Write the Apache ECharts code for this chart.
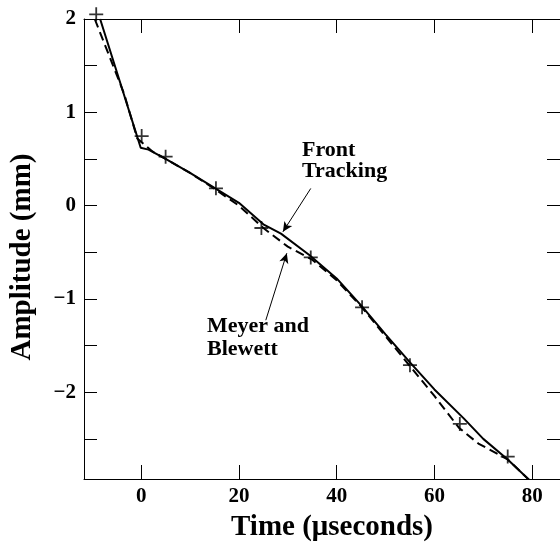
<!DOCTYPE html>
<html>
<head>
<meta charset="utf-8">
<script src="https://cdn.jsdelivr.net/npm/echarts@6/dist/echarts.min.js"></script>
<style>html,body{margin:0;padding:0;background:#fff}#c{width:560px;height:553px}</style>
</head>
<body>
<div id="c"></div>
<script>
// ---- data ----
const frontX = [-8.4, -0.1, 1.5, 5, 10, 15, 20, 25, 28.6, 34.4, 40, 45, 50, 55, 60, 66, 70, 75, 79.4];
const frontY = [2.0, 0.62, 0.6, 0.5, 0.35, 0.19, 0.03, -0.2, -0.3, -0.53, -0.78, -1.07, -1.38, -1.68, -1.97, -2.28, -2.5, -2.72, -2.94];
const meyerX = [-9.5, -3.5, -0.8, 2.3, 5, 10, 15, 20, 25, 30, 35, 40, 45, 50, 55, 60, 65, 69, 75, 79.4];
const meyerY = [2.0, 1.2, 0.72, 0.58, 0.5, 0.35, 0.18, 0.0, -0.24, -0.44, -0.58, -0.8, -1.08, -1.4, -1.72, -2.04, -2.38, -2.55, -2.72, -2.94];
const expX = [-9.2, 0.1, 5, 15.3, 24.6, 34.7, 45.2, 55, 65.2, 75];
const expY = [2.05, 0.745, 0.525, 0.185, -0.24, -0.555, -1.09, -1.71, -2.34, -2.69];
const xTickValues = [0, 20, 40, 60, 80];
const yLabelValues = [-2, -1, 0, 1, 2];
const yTickValues = [-2.5, -2, -1.5, -1, -0.5, 0, 0.5, 1, 1.5, 2];
const frontArrow = [[34.7, 0.184], [29.0, -0.281]];
const meyerArrow = [[25.5, -1.228], [29.8, -0.51]];

const zip = (xs, ys) => xs.map((x, i) => [x, ys[i]]);
const font = '"Liberation Serif", "Times New Roman", serif';
const minus = v => (v < 0 ? '\u2212' + Math.abs(v) : String(v));

const chart = echarts.init(document.getElementById('c'), null, {renderer: 'canvas'});
const axisLineStyle = {color: '#000', width: 1};
chart.setOption({
  backgroundColor: '#fff',
  animation: false,
  grid: {left: 83, top: 19, width: 480, height: 460},
  xAxis: [{
    type: 'value', min: -11.7, max: 85.7, position: 'bottom',
    splitLine: {show: false},
    axisLine: {onZero: false, lineStyle: axisLineStyle},
    axisTick: {inside: true, length: 14, customValues: xTickValues, lineStyle: {color: '#000', width: 1}},
    axisLabel: {customValues: xTickValues, formatter: minus, margin: 7, color: '#000', fontFamily: font, fontWeight: 'bold', fontSize: 21},
    name: 'Time (\u03bcseconds)', nameLocation: 'middle', nameGap: 34,
    nameTextStyle: {color: '#000', fontFamily: font, fontWeight: 'bold', fontSize: 29, padding: [0, 0, 0, 20]}
  }, {
    type: 'value', min: -11.7, max: 85.7, position: 'top',
    splitLine: {show: false},
    axisLine: {onZero: false, lineStyle: axisLineStyle},
    axisTick: {inside: true, length: 14, customValues: xTickValues, lineStyle: {color: '#000', width: 1}},
    axisLabel: {show: false}
  }],
  yAxis: [{
    type: 'value', min: -2.93, max: 2, position: 'left',
    splitLine: {show: false},
    axisLine: {onZero: false, lineStyle: axisLineStyle},
    axisTick: {inside: true, length: 13, customValues: yTickValues, lineStyle: {color: '#000', width: 1}},
    axisLabel: {customValues: yLabelValues, formatter: minus, margin: 8, color: '#000', fontFamily: font, fontWeight: 'bold', fontSize: 21},
    name: 'Amplitude (mm)', nameLocation: 'middle', nameGap: 47,
    nameTextStyle: {color: '#000', fontFamily: font, fontWeight: 'bold', fontSize: 29, padding: [0, 16, 0, 0]}
  }, {
    type: 'value', min: -2.93, max: 2, position: 'right',
    splitLine: {show: false},
    axisLine: {onZero: false, lineStyle: axisLineStyle},
    axisTick: {inside: true, length: 13, customValues: yTickValues, lineStyle: {color: '#000', width: 1}},
    axisLabel: {show: false}
  }],
  series: [{
    name: 'Front Tracking', type: 'line', data: zip(frontX, frontY),
    showSymbol: false, lineStyle: {color: '#000', width: 2}, itemStyle: {color: '#000'}, z: 3,
    markLine: {
      silent: true, symbol: ['none', 'arrow'], symbolSize: [7, 10],
      lineStyle: {color: '#000', width: 1, type: 'solid'}, label: {show: false},
      data: [[{coord: frontArrow[0]}, {coord: frontArrow[1]}], [{coord: meyerArrow[0]}, {coord: meyerArrow[1]}]]
    }
  }, {
    name: 'Meyer and Blewett', type: 'line', data: zip(meyerX, meyerY),
    showSymbol: false, lineStyle: {color: '#000', width: 2, type: [9, 5]}, itemStyle: {color: '#000'}, z: 3
  }, {
    name: 'Experiment', type: 'scatter', data: zip(expX, expY), clip: false,
    symbol: 'path://M0,6L12,6M6,0L6,12', symbolSize: 14,
    itemStyle: {color: 'none', borderColor: '#000', borderWidth: 1.8}, z: 4
  }],
  graphic: [{
    type: 'text', left: 302, top: 139,
    style: {text: 'Front\nTracking', fill: '#000', font: 'bold 22px ' + font, lineHeight: 21}
  }, {
    type: 'text', left: 207, top: 315,
    style: {text: 'Meyer and\nBlewett', fill: '#000', font: 'bold 22px ' + font, lineHeight: 23}
  }]
});
</script>
</body>
</html>
